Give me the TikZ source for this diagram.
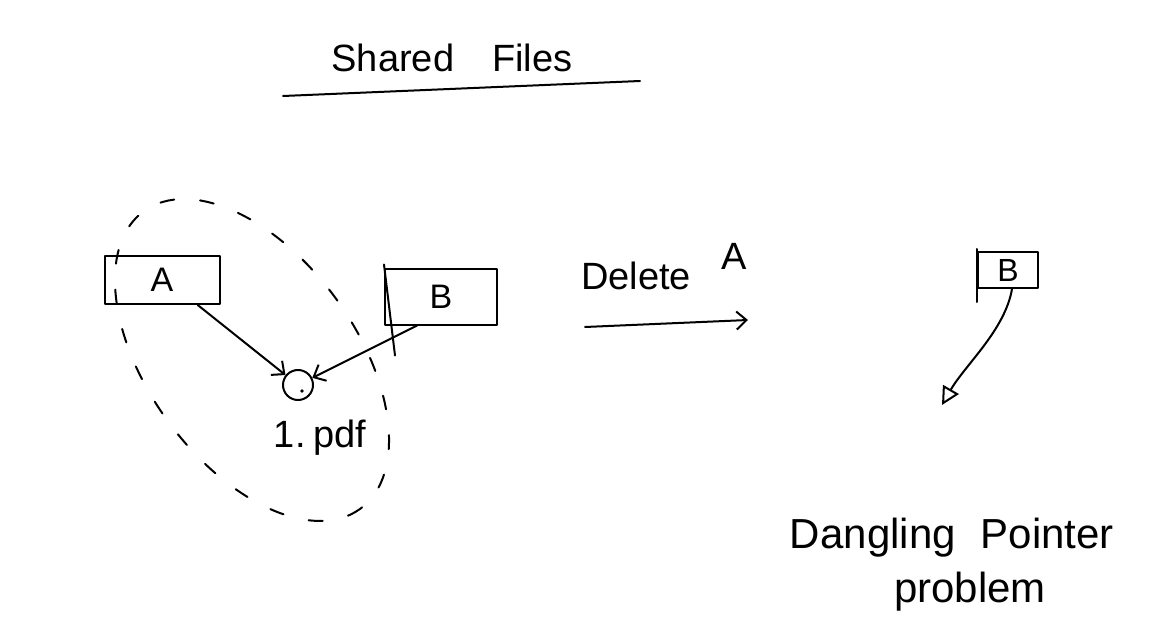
\documentclass[tikz,border=0pt]{standalone}
\usepackage{fontspec}
\setmainfont{Liberation Sans}
\usetikzlibrary{arrows.meta}
\begin{document}
\begin{tikzpicture}[x=1pt,y=-1pt, line width=2pt, line cap=round, line join=round,
  box/.style={draw, rectangle, inner sep=0pt},
  lbl/.style={font=\fontsize{34}{40}\selectfont},
  big/.style={font=\fontsize{38}{44}\selectfont},
  arr/.style={-{Straight Barb[length=10pt,width=18pt]}},
  encl/.style={line width=2pt, dash pattern=on 14pt off 26pt}]
\useasboundingbox (0,0) rectangle (1165,639);
% title
\node[big] (title) at (452,58) {Shared\hspace{1em}Files};
\coordinate (ul1) at (283,96);
\coordinate (ul2) at (640,81);
\draw (ul1) -- (ul2);
% left scene
\draw[encl, rotate around={-54:(252,360)}] (252,360) ellipse [x radius=184, y radius=104];
\node[box, lbl, minimum width=115pt, minimum height=48pt] (boxA) at (162,280) {A};
\node[box, lbl, minimum width=112pt, minimum height=55pt] (boxB) at (441,297) {B};
\draw ([yshift=4pt]boxB.north west) -- ([xshift=11pt,yshift=-30pt]boxB.south west);
\node[draw, circle, minimum size=30pt, inner sep=0pt] (file) at (298,385) {};
\fill (302,391) circle (1.8pt);
\node[big] (pdf) at (320,438) {1.\hspace{0.2em}pdf};
\draw[arr] (boxA.-35) -- (file);
\draw[arr] (boxB.-130) -- (file);
% delete arrow
\coordinate (d1) at (585,327);
\coordinate (d2) at (748,320);
\draw[arr] (d1) -- (d2);
\node[big] (del) at (636,276) {Delete};
\node[big] (delA) at (734,256) {A};
% right scene
\node[box, font=\fontsize{32}{36}\selectfont, minimum width=60pt, minimum height=36pt] (boxB2) at (1008,270) {B};
\draw ([yshift=2pt]boxB2.north west) -- ([yshift=-13pt]boxB2.south west);
\coordinate (dang) at (942,405);
\draw[-{Triangle[open,length=18pt,width=18pt]}] ([xshift=4pt]boxB2.south) .. controls (1005,330) and (965,365) .. (dang);
\node[font=\fontsize{42}{48}\selectfont] (dp) at (952,538) {Dangling\hspace{0.6em}Pointer};
\node[font=\fontsize{42}{48}\selectfont] (prob) at (970,592) {problem};
\end{tikzpicture}
\end{document}
